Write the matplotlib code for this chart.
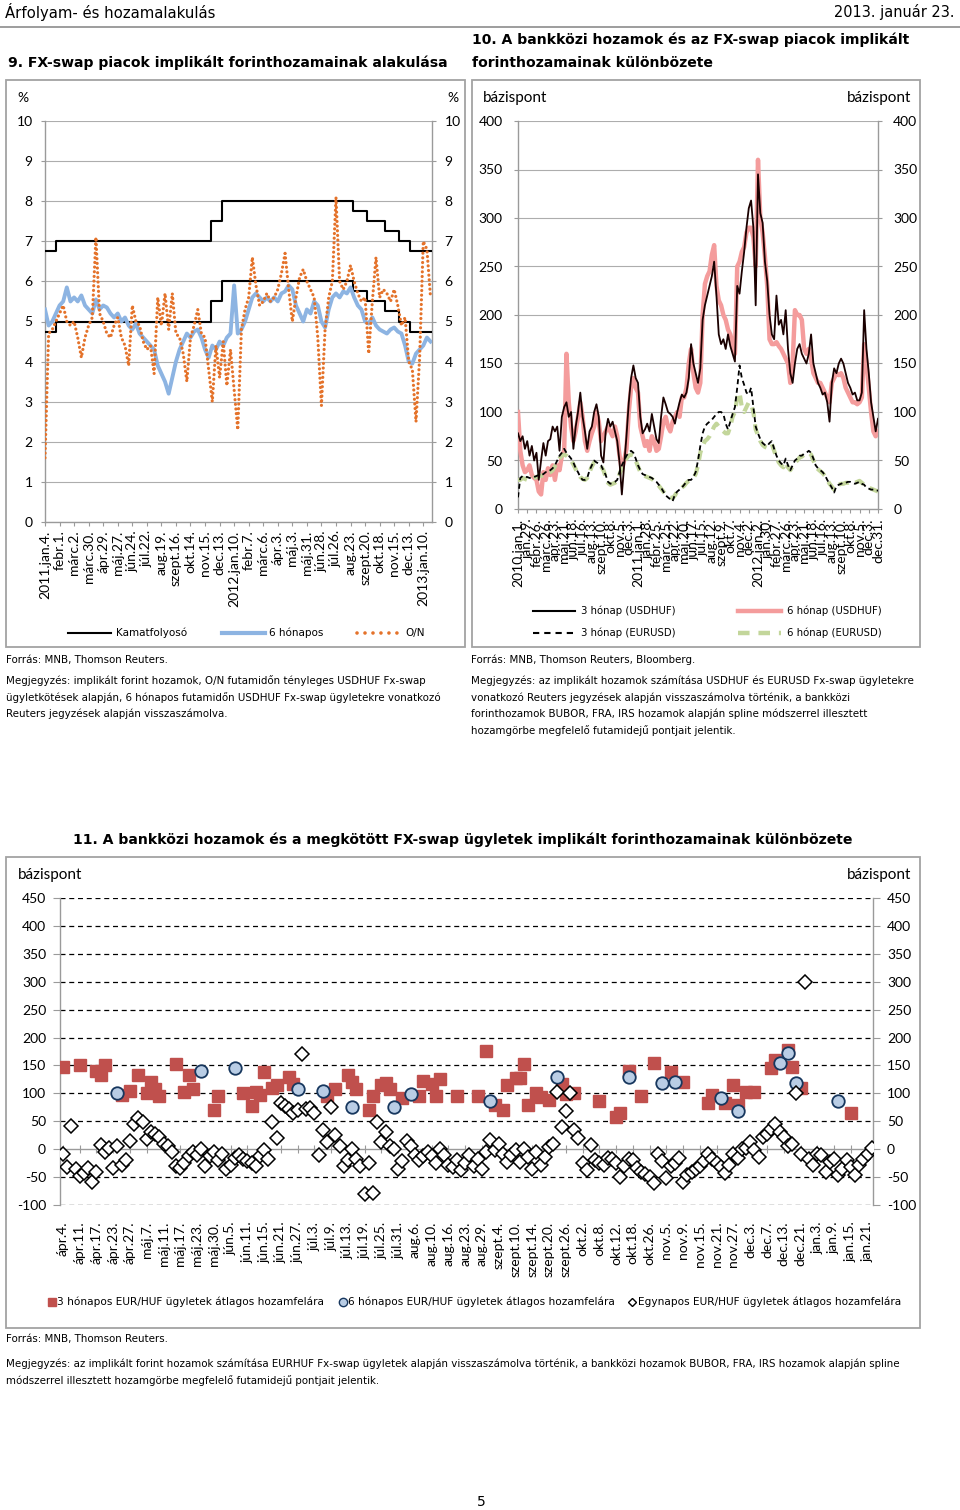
import numpy as np
import matplotlib
matplotlib.use('Agg')
import matplotlib.pyplot as plt
from matplotlib.patches import Rectangle
from matplotlib.lines import Line2D

plt.rcParams['font.family'] = ['Lato', 'DejaVu Sans']
plt.rcParams['axes.unicode_minus'] = False

# ---------------- DATA ----------------
# Chart 9 (business-day index from 2011.jan.4.)
ser9_step = 5
on_val = [1.6, 4.7, 4.8, 5.0, 5.2, 5.4, 5.0, 4.9, 5.0, 4.6,
          4.1, 4.6, 4.9, 5.1, 7.1, 5.2, 5.0, 4.7, 4.6, 4.9,
          5.1, 4.6, 4.4, 3.9, 5.4, 5.0, 4.9, 4.5, 4.3, 4.4,
          3.7, 5.6, 4.9, 5.7, 4.8, 5.7, 4.7, 4.6, 4.2, 3.5,
          4.6, 4.9, 5.3, 4.7, 4.6, 3.8, 3.0, 4.4, 3.6, 4.5,
          3.4, 4.3, 3.3, 2.3, 4.8, 5.3, 5.6, 6.6, 5.9, 5.4,
          5.5, 5.7, 5.5, 5.6, 5.8, 6.2, 6.7, 5.8, 5.0, 5.6,
          6.1, 6.3, 6.0, 5.8, 5.6, 4.6, 2.9, 4.8, 5.6, 6.0,
          8.1, 6.0, 5.8, 6.0, 6.4, 6.0, 5.7, 5.5, 5.6, 4.2,
          5.5, 6.6, 5.6, 5.8, 5.7, 5.5, 5.8, 5.4, 4.9, 5.1,
          4.0, 3.8, 2.5, 4.1, 7.0, 6.8, 5.6]
m6_val = [5.3, 4.9, 5.0, 5.2, 5.4, 5.5, 5.85, 5.5, 5.6, 5.5,
          5.65, 5.4, 5.3, 5.2, 5.55, 5.3, 5.4, 5.35, 5.2, 5.1,
          5.2, 5.0, 5.1, 4.9, 4.8, 4.95, 4.7, 4.6, 4.5, 4.4,
          4.3, 3.9, 3.7, 3.5, 3.2, 3.6, 4.0, 4.3, 4.5, 4.7,
          4.6, 4.75, 4.8, 4.6, 4.3, 4.1, 4.4, 4.3, 4.5, 4.4,
          4.6, 4.7, 5.9, 4.7, 4.8, 5.0, 5.3, 5.6, 5.7, 5.6,
          5.5, 5.6, 5.5, 5.6, 5.5, 5.7, 5.75, 5.9, 5.8, 5.4,
          5.2, 5.0, 5.3, 5.2, 5.5, 5.4, 5.0, 4.85, 5.3, 5.6,
          5.7, 5.6, 5.75, 5.7, 5.85, 5.6, 5.4, 5.3, 5.0, 4.95,
          5.1, 4.9, 4.8, 4.75, 4.7, 4.8, 4.85, 4.75, 4.7, 4.4,
          4.0, 3.95, 4.2, 4.3, 4.4, 4.6, 4.5]
corr_idx = [0, 15, 228, 243, 423, 443, 467, 487, 502, 532]
base_rate = [5.75, 6.0, 6.5, 7.0, 6.75, 6.5, 6.25, 6.0, 5.75, 5.75]
lab9 = ["2011.jan.4.", "febr.1.", "márc.2.", "márc.30.", "ápr.29.", "máj.27.",
        "jún.24.", "júl.22.", "aug.19.", "szept.16.", "okt.14.", "nov.15.",
        "dec.13.", "2012.jan.10.", "febr.7.", "márc.6.", "ápr.3.", "máj.3.",
        "máj.31.", "jún.28.", "júl.26.", "aug.23.", "szept.20.", "okt.18.",
        "nov.15.", "dec.13.", "2013.jan.10."]

# Chart 10 (weekly, from 2010.jan.1.)
usdhuf3 = [78, 70, 75, 62, 70, 55, 65, 50, 58, 30,
           50, 68, 55, 70, 72, 85, 80, 85, 60, 95,
           105, 110, 95, 100, 62, 85, 100, 120, 95, 80,
           62, 80, 85, 100, 108, 95, 55, 48, 80, 93,
           85, 90, 80, 70, 48, 15, 45, 75, 110, 135,
           148, 135, 130, 95, 78, 82, 88, 80, 98, 85,
           72, 68, 95, 115, 108, 100, 98, 95, 88, 100,
           110, 118, 115, 120, 135, 170, 150, 140, 130, 145,
           195, 210, 220, 230, 240, 255, 220, 180, 170, 175,
           165, 180, 168, 160, 152, 230, 222, 245, 265, 290,
           310, 318, 290, 210, 345, 305, 295, 255, 235, 200,
           180, 175, 220, 190, 195, 180, 205, 165, 140, 130,
           150, 165, 170, 160, 155, 150, 160, 180, 150, 140,
           130, 125, 118, 120, 110, 90, 130, 145, 140, 150,
           155, 150, 140, 130, 125, 118, 120, 112, 112, 120,
           205, 165, 140, 110, 95, 80, 93]
usdhuf6 = [100, 60, 45, 38, 40, 45, 35, 32, 30, 18,
           15, 38, 30, 42, 35, 45, 30, 45, 40, 55,
           60, 160, 110, 85, 70, 80, 95, 110, 95, 70,
           60, 70, 78, 85, 100, 90, 70, 75, 80, 85,
           80, 75, 85, 75, 55, 40, 50, 62, 100, 125,
           135, 125, 120, 85, 75, 65, 70, 60, 75, 70,
           60, 62, 75, 90, 95, 85, 80, 90, 95, 100,
           95, 115, 115, 125, 150, 165, 140, 125, 120, 130,
           200, 232, 240, 245, 262, 272, 230, 215, 210, 200,
           195, 185, 180, 170, 160, 250, 255, 265, 270, 285,
           290, 290, 280, 250, 360, 300, 285, 260, 230, 175,
           170, 170, 172, 168, 165, 160, 155, 150, 130, 150,
           205, 200, 200, 195, 165, 160, 165, 155, 140, 135,
           130, 130, 125, 120, 115, 110, 130, 135, 140, 138,
           140, 135, 125, 120, 115, 110, 110, 108, 110, 115,
           170, 150, 125, 100, 80, 75, 80]
eurusd3 = [12, 32, 34, 33, 33, 32, 32, 33, 34, 35,
           35, 36, 38, 38, 40, 42, 45, 50, 55, 58,
           62, 58, 55, 52, 48, 42, 38, 33, 30, 30,
           32, 40, 45, 50, 48, 47, 45, 40, 35, 28,
           26, 27, 28, 30, 38, 45, 50, 55, 58, 60,
           58, 52, 45, 40, 36, 35, 34, 33, 32, 30,
           28, 25, 22, 18, 14, 12, 10, 8, 15, 18,
           20, 22, 25, 28, 30, 30, 33, 38, 50, 65,
           78, 85, 88, 90, 92, 95, 98, 100, 100, 98,
           88, 82, 90, 98, 105, 125, 148, 135, 128, 120,
           118, 125, 105, 85, 78, 72, 68, 66, 65, 68,
           70, 62, 55, 50, 47, 45, 52, 45, 40, 45,
           50, 52, 55, 55, 57, 58, 60, 58, 52, 45,
           42, 40, 38, 35, 30, 26, 22, 17, 24, 25,
           26, 27, 27, 28, 28, 27, 26, 27, 28, 26,
           25, 22, 21, 20, 20, 19, 19]
eurusd6 = [30, 30, 32, 31, 30, 30, 31, 32, 33, 34,
           34, 35, 36, 37, 38, 40, 44, 48, 52, 55,
           56, 55, 53, 50, 46, 41, 37, 33, 31, 30,
           32, 38, 44, 48, 47, 45, 44, 40, 33, 27,
           25, 26, 27, 29, 36, 42, 48, 52, 55, 56,
           55, 50, 44, 38, 35, 34, 33, 32, 31, 29,
           27, 24, 21, 18, 15, 13, 12, 11, 14, 18,
           20, 22, 24, 27, 29, 30, 32, 36, 45, 58,
           65, 70, 72, 75, 80, 85, 88, 85, 82, 80,
           78, 78, 85, 95, 100, 115, 120, 105, 100, 105,
           110, 108, 100, 82, 76, 70, 66, 64, 63, 65,
           67, 60, 53, 48, 45, 43, 48, 43, 40, 44,
           48, 50, 53, 54, 56, 57, 58, 56, 50, 44,
           41, 39, 37, 34, 30, 26, 23, 20, 24, 25,
           26, 26, 27, 27, 28, 27, 27, 28, 29, 27,
           25, 23, 22, 21, 20, 19, 18]
lab10 = ["2010.jan.1.", "jan.29.", "febr.26.", "márc.26.", "ápr.23.", "máj.21.",
         "jún.18.", "júl.16.", "aug.13.", "szept.10.", "okt.8.", "nov.5.", "dec.3.",
         "2011.jan.1.", "jan.28.", "febr.25.", "márc.25.", "ápr.22.", "máj.20.",
         "jún.17.", "júl.15.", "aug.12.", "szept.9.", "okt.7.", "nov.4.", "dec.2.",
         "2012.jan.2.", "jan.30.", "febr.27.", "márc.26.", "ápr.23.", "máj.21.",
         "jún.18.", "júl.16.", "aug.13.", "szept.10.", "okt.8.", "nov.5.", "dec.3.",
         "dec.31."]

# Chart 11 (trading-day index from ápr.4.)
sq_day = [0, 4, 8, 9, 10, 14, 16, 18, 20, 21, 22, 23, 27, 29, 30, 31, 36, 37, 43, 45,
          46, 47, 48, 50, 51, 54, 55, 63, 65, 68, 69, 70, 73, 74, 76, 77, 78, 81, 85, 86,
          88, 89, 90, 94, 99, 101, 103, 105, 106, 108, 109, 110, 111, 113, 114, 116, 119,
          120, 122, 128, 132, 133, 135, 138, 141, 145, 148, 154, 155, 158, 160, 161, 163,
          165, 169, 170, 173, 174, 176, 188]
sq_val = [148, 150, 140, 133, 150, 97, 105, 133, 100, 120, 108, 95, 153, 103, 133, 108,
          70, 95, 100, 78, 103, 97, 138, 110, 115, 130, 117, 95, 107, 133, 120, 107, 70,
          95, 115, 118, 108, 92, 95, 122, 117, 95, 125, 95, 95, 175, 80, 70, 115, 127,
          128, 153, 80, 100, 93, 88, 117, 98, 100, 87, 58, 65, 140, 95, 155, 138, 120,
          83, 97, 83, 115, 80, 103, 102, 145, 160, 177, 148, 110, 65]
circ_day = [13, 33, 41, 56, 62, 69, 79, 83, 102, 118, 135, 143, 146, 157, 161, 171, 173, 175, 185]
circ_val = [101, 140, 145, 107, 105, 75, 75, 98, 87, 130, 130, 118, 120, 92, 68, 155, 173, 118, 87]
on_spread = [-8, -32, 41, -35, -48, -42, -33, -58, -40, 8,
             -5, 3, -33, 6, -28, -20, 14, 45, 55, 48,
             18, 30, 28, 22, 10, 5, -5, -30, -33, -25,
             -12, -5, -10, 0, -30, -12, -5, -20, -8, -35,
             -28, -15, -10, -18, -22, -25, -30, -12, -2, -18,
             48, 20, 82, 78, 72, 65, 70, 170, 72, 73,
             65, -10, 35, 12, 75, 25, 5, -30, -20, 0,
             -18, -30, -80, -25, -78, 48, 12, 30, 5, 0,
             -35, -22, 15, 5, -10, -20, -12, -5, -12, -25,
             0, -10, -28, -32, -20, -38, -25, -10, -30, -17,
             -35, -5, 16, -2, 10, -8, -23, -11, -2, -23,
             1, -14, -35, -5, -29, -14, 4, 10, 103, 40,
             68, 100, 35, 20, -25, -38, 8, -20, -25, -28,
             -15, -18, -25, -50, -30, -17, -20, -33, -40, -45,
             -50, -60, -8, -22, -52, -30, -25, -15, -58, -47,
             -40, -35, -30, -22, -8, -18, -25, -32, -42, -28,
             -8, -15, 0, 2, 12, -2, -14, 22, 28, 37,
             46, 30, 22, 5, 10, 100, -8, 300, -17, -29,
             -8, -11, -41, -23, -17, -47, -35, -20, -32, -47,
             -29, -17, -8, 2]
lab11 = ["ápr.4.", "ápr.11.", "ápr.17.", "ápr.23.", "ápr.27.", "máj.7.", "máj.11.",
         "máj.17.", "máj.23.", "máj.30.", "jún.5.", "jún.11.", "jún.15.", "jún.21.",
         "jún.27.", "júl.3.", "júl.9.", "júl.13.", "júl.19.", "júl.25.", "júl.31.",
         "aug.6.", "aug.10.", "aug.16.", "aug.23.", "aug.29.", "szept.4.", "szept.10.",
         "szept.14.", "szept.20.", "szept.26.", "okt.2.", "okt.8.", "okt.12.", "okt.18.",
         "okt.26.", "nov.5.", "nov.9.", "nov.15.", "nov.21.", "nov.27.", "dec.3.",
         "dec.7.", "dec.13.", "dec.21.", "jan.3.", "jan.9.", "jan.15.", "jan.21."]

# ---------------- FIGURE ----------------
W, H = 960, 1510
fig = plt.figure(figsize=(W / 100, H / 100), dpi=100)
fig.patch.set_facecolor('white')
renderer = fig.canvas.get_renderer()

GRID = '#ADADAD'
AXC = '#9A9A9A'
BOXC = '#A3A3A3'
TF = 'DejaVu Sans'
NARROW = ['Liberation Sans Narrow', 'DejaVu Sans']
ORANGE = '#E4722A'


def fx(x):
    return x / W


def fy(y):
    return 1 - y / H


def px_axes(x0, y0, x1, y1):
    return fig.add_axes([fx(x0), fy(y1), (x1 - x0) / W, (y1 - y0) / H])


def put(x, y, s, **kw):
    kw.setdefault('va', 'center')
    return fig.text(fx(x), fy(y), s, **kw)


def fit(t, width):
    bb = t.get_window_extent(renderer)
    t.set_fontsize(t.get_fontsize() * width / bb.width)
    return t.get_fontsize()


def box(x0, y0, x1, y1):
    fig.add_artist(Rectangle((fx(x0), fy(y1)), (x1 - x0) / W, (y1 - y0) / H,
                             transform=fig.transFigure, fill=False, ec=BOXC, lw=1.3))


def key_line(x0, x1, y, **kw):
    fig.add_artist(Line2D([fx(x0), fx(x1)], [fy(y), fy(y)], transform=fig.transFigure, **kw))


def key_marker(x, y, **kw):
    fig.add_artist(Line2D([fx(x)], [fy(y)], transform=fig.transFigure, ls='none', **kw))


# header
t = put(5, 12, 'Árfolyam- és hozamalakulás', family=TF, fontsize=11)
fit(t, 211)
t = put(955, 12, '2013. január 23.', family=TF, fontsize=11, ha='right')
fit(t, 120)
fig.add_artist(Line2D([0, 1], [fy(27), fy(27)], transform=fig.transFigure, color='#8C8C8C', lw=1.2))

# titles
t = put(8, 63, '9. FX-swap piacok implikált forinthozamainak alakulása', family=TF,
        fontsize=10, weight='bold')
tsize = fit(t, 440)
t = put(472, 40, '10. A bankközi hozamok és az FX-swap piacok implikált', family=TF,
        fontsize=tsize, weight='bold')
put(472, 63, 'forinthozamainak különbözete', family=TF, fontsize=tsize, weight='bold')
put(463, 840, '11. A bankközi hozamok és a megkötött FX-swap ügyletek implikált '
    'forinthozamainak különbözete', family=TF, fontsize=tsize, weight='bold', ha='center')

box(6, 80, 465, 647)
box(472, 80, 920, 647)
box(6, 857, 920, 1328)


def style_axes(ax, labelsize=10):
    for s in ['left', 'right', 'bottom']:
        ax.spines[s].set_color(AXC)
        ax.spines[s].set_linewidth(1.0)
    ax.spines['top'].set_visible(False)
    ax.set_axisbelow(True)
    ax.tick_params(axis='y', left=True, right=True, labelleft=True, labelright=True,
                   length=3, width=0.8, color=AXC, labelsize=labelsize, pad=6)
    ax.tick_params(axis='x', length=3, width=0.8, color=AXC, labelsize=labelsize)


# ---------------- Chart 9 ----------------
ax9 = px_axes(45, 121, 432, 522)
idx9 = np.arange(len(on_val)) * ser9_step
upper = np.array(base_rate) + 1
lower = np.array(base_rate) - 1
ax9.step(corr_idx, upper, where='post', color='black', lw=1.5, zorder=3)
ax9.step(corr_idx, lower, where='post', color='black', lw=1.5, zorder=3)
ax9.plot(idx9, m6_val, color='#8DB4E2', lw=2.8, zorder=4, solid_joinstyle='round')
ax9.plot(idx9, on_val, color=ORANGE, lw=2.3, ls=(0, (0.01, 1.45)),
         dash_capstyle='round', zorder=5)
ax9.set_xlim(0, 532)
ax9.set_ylim(0, 10)
ax9.set_yticks(range(0, 11))
ax9.set_xticks([i * 20 for i in range(len(lab9))])
ax9.set_xticklabels(lab9, rotation=90)
ax9.grid(axis='y', color=GRID, lw=0.8)
style_axes(ax9)
ax9.tick_params(axis='x', pad=3)
put(23, 98, '%', fontsize=10, ha='center')
put(453, 98, '%', fontsize=10, ha='center')

# legend 9
key_line(68, 111, 633, color='black', lw=1.5)
t = put(116, 633, 'Kamatfolyosó', family=TF, fontsize=8)
lsize = fit(t, 71)
key_line(222, 265, 633, color='#8DB4E2', lw=3.0)
put(269, 633, '6 hónapos', family=TF, fontsize=lsize)
key_line(357, 397, 633, color=ORANGE, lw=2.6, ls=(0, (0.01, 2.2)), dash_capstyle='round')
put(405, 633, 'O/N', family=TF, fontsize=lsize)

# ---------------- Chart 10 ----------------
ax10 = px_axes(518, 121, 878, 509)
wk = np.arange(len(usdhuf3))
ax10.plot(wk, usdhuf6, color='#F49C9C', lw=3.2, zorder=3, solid_joinstyle='round')
ax10.plot(wk, usdhuf3, color='#1A0000', lw=1.3, zorder=4)
ax10.plot(wk, eurusd6, color='#C3D69B', lw=3.0, ls=(0, (2.4, 1.7)), zorder=3)
ax10.plot(wk, eurusd3, color='black', lw=1.3, ls=(0, (2.8, 2.0)), zorder=4)
ax10.set_xlim(0, 156)
ax10.set_ylim(0, 400)
ax10.set_yticks(range(0, 401, 50))
ax10.set_xticks([i * 4 for i in range(len(lab10))])
ax10.set_xticklabels(lab10, rotation=90)
ax10.grid(axis='y', color=GRID, lw=0.8)
style_axes(ax10)
ax10.tick_params(axis='y', pad=8)
ax10.tick_params(axis='x', pad=4)
t = put(483, 98, 'bázispont', fontsize=10)
bsize = fit(t, 65)
put(911, 98, 'bázispont', fontsize=bsize, ha='right')

# legend 10
key_line(533, 575, 611, color='black', lw=1.5)
t = put(581, 611, '3 hónap (USDHUF)', family=TF, fontsize=8)
l10 = fit(t, 95)
key_line(738, 781, 611, color='#F49C9C', lw=3.2)
put(787, 611, '6 hónap (USDHUF)', family=TF, fontsize=l10)
key_line(533, 575, 633, color='black', lw=1.5, ls=(0, (3.0, 2.4)))
put(581, 633, '3 hónap (EURUSD)', family=TF, fontsize=l10)
key_line(738, 781, 633, color='#C3D69B', lw=3.2, ls=(0, (2.6, 2.0)))
put(787, 633, '6 hónap (EURUSD)', family=TF, fontsize=l10)

# ---------------- Chart 11 ----------------
ax11 = px_axes(60, 898, 873, 1205)
days = np.arange(len(on_spread))
ax11.plot(sq_day, sq_val, ls='none', marker='s', ms=8, mfc='#C0504D', mec='#C0504D', zorder=3)
ax11.plot(circ_day, circ_val, ls='none', marker='o', ms=9, mfc='#B9CDE5', mec='#17375E',
          mew=1.3, zorder=4)
ax11.plot(days, on_spread, ls='none', marker='D', ms=7, mfc='white', mec='black',
          mew=1.1, zorder=5)
ax11.set_xlim(-0.7, 193.3)
ax11.set_ylim(-100, 450)
yt = list(range(-100, 451, 50))
ax11.set_yticks(yt)
ax11.set_yticklabels([str(v) for v in yt])
ax11.grid(axis='y', color='black', lw=0.9, ls=(0, (4, 3)))
for v, gl in zip(yt, ax11.get_ygridlines()):
    if v == 0:
        gl.set_visible(False)
style_axes(ax11)
ax11.tick_params(axis='y', length=5, pad=5)
ax11.spines['bottom'].set_position(('data', 0))
ax11.set_xticks([i * 4 for i in range(len(lab11))])
ax11.tick_params(axis='x', direction='inout', length=6, labelbottom=False)
sec = ax11.secondary_xaxis(0.0)
sec.set_xticks([i * 4 for i in range(len(lab11))], labels=lab11, rotation=90)
sec.tick_params(axis='x', length=0, pad=12, labelsize=10)
sec.spines['bottom'].set_visible(False)
t = put(18, 875, 'bázispont', fontsize=bsize)
put(911, 875, 'bázispont', fontsize=bsize, ha='right')

# legend 11
key_marker(52, 1302, marker='s', ms=6, mfc='#C0504D', mec='#C0504D')
t = put(57, 1302, '3 hónapos EUR/HUF ügyletek átlagos hozamfelára', family=TF, fontsize=8)
l11 = fit(t, 265)
key_marker(343, 1302, marker='o', ms=6, mfc='#B9CDE5', mec='#17375E', mew=1.0)
put(348, 1302, '6 hónapos EUR/HUF ügyletek átlagos hozamfelára', family=TF, fontsize=l11)
key_marker(632, 1302, marker='D', ms=4.5, mfc='white', mec='black', mew=1.0)
put(638, 1302, 'Egynapos EUR/HUF ügyletek átlagos hozamfelára', family=TF, fontsize=l11)

# ---------------- footnotes ----------------
t = put(6, 1364, 'Megjegyzés: az implikált forint hozamok számítása EURHUF Fx-swap ügyletek '
        'alapján visszaszámolva történik, a bankközi hozamok BUBOR, FRA, IRS hozamok alapján spline',
        family=NARROW, fontsize=9)
fs = fit(t, 897)
notes = [
    (6, 660, 'Forrás: MNB, Thomson Reuters.'),
    (6, 681, 'Megjegyzés: implikált forint hozamok, O/N futamidőn tényleges USDHUF Fx-swap'),
    (6, 698, 'ügyletkötések alapján, 6 hónapos futamidőn USDHUF Fx-swap ügyletekre vonatkozó'),
    (6, 714, 'Reuters jegyzések alapján visszaszámolva.'),
    (471, 660, 'Forrás: MNB, Thomson Reuters, Bloomberg.'),
    (471, 681, 'Megjegyzés: az implikált hozamok számítása USDHUF és EURUSD Fx-swap ügyletekre'),
    (471, 698, 'vonatkozó Reuters jegyzések alapján visszaszámolva történik, a bankközi'),
    (471, 714, 'forinthozamok BUBOR, FRA, IRS hozamok alapján spline módszerrel illesztett'),
    (471, 731, 'hozamgörbe megfelelő futamidejű pontjait jelentik.'),
    (6, 1339, 'Forrás: MNB, Thomson Reuters.'),
    (6, 1381, 'módszerrel illesztett hozamgörbe megfelelő futamidejű pontjait jelentik.'),
]
for x, y, s in notes:
    put(x, y, s, family=NARROW, fontsize=fs)

put(481, 1502, '5', family=TF, fontsize=10, ha='center')

fig.savefig('out.png', dpi=100)
